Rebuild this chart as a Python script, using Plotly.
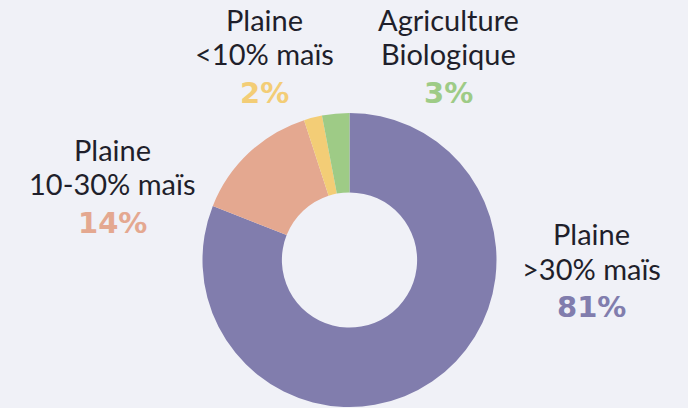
import plotly.graph_objects as go

labels = ["Plaine<br>>30% maïs", "Plaine<br>10-30% maïs", "Plaine<br><10% maïs", "Agriculture<br>Biologique"]
values = [81, 14, 2, 3]
colors = ["#817dad", "#e4a890", "#f3cd76", "#9ecb86"]

W, H = 688, 408
cx, cy, r = 349.5, 260, 147

fig = go.Figure(go.Pie(
    labels=labels,
    values=values,
    hole=0.46,
    sort=False,
    direction="clockwise",
    rotation=0,
    marker=dict(colors=colors, line=dict(width=0)),
    textinfo="none",
    hoverinfo="label+percent",
    domain=dict(x=[(cx - r) / W, (cx + r) / W], y=[(H - cy - r) / H, (H - cy + r) / H]),
    showlegend=False,
))

# label block centres (x, y of first line, in pixels from top-left)
label_pos = [(591, 233), (113, 149), (264, 19), (448, 19)]
line_gap = 35
pct_gap = 39

for lab, val, col, (x, y) in zip(labels, values, colors, label_pos):
    lines = lab.split("<br>")
    for i, ln in enumerate(lines):
        fig.add_annotation(x=x / W, y=1 - (y + i * line_gap) / H, xref="paper", yref="paper",
                           text=ln, showarrow=False, xanchor="center", yanchor="middle",
                           font=dict(family="Lato", size=29, color="#1f1f2b"))
    fig.add_annotation(x=x / W, y=1 - (y + line_gap + pct_gap) / H, xref="paper", yref="paper",
                       text=f"<b>{val}%</b>", showarrow=False, xanchor="center", yanchor="middle",
                       font=dict(family="DejaVu Sans", size=29, color=col))

fig.update_layout(
    width=W, height=H,
    margin=dict(l=0, r=0, t=0, b=0),
    paper_bgcolor="#f0f1f7",
    plot_bgcolor="#f0f1f7",
)

fig.write_html("out.html", config={"displayModeBar": False},
               post_script="document.body.style.margin='0';")
